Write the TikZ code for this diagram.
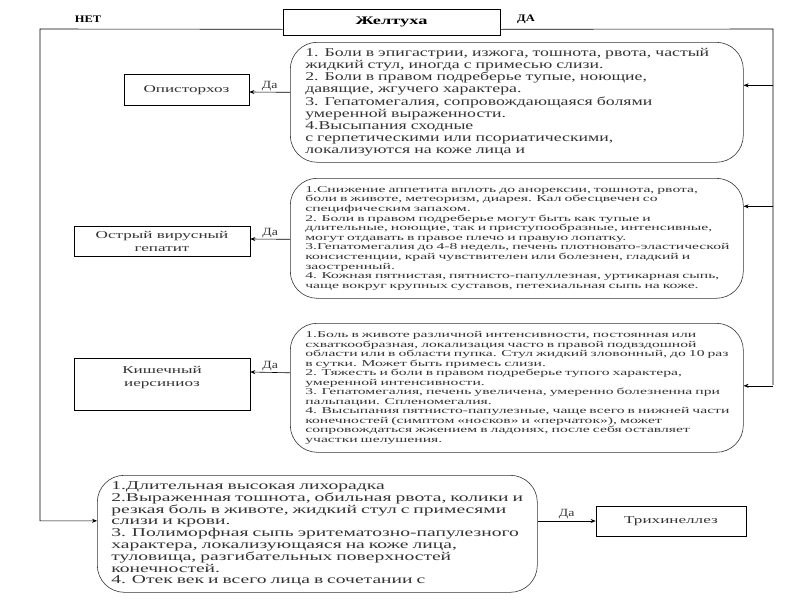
\documentclass[tikz,border=0pt]{standalone}
\usepackage{fontspec}
\setmainfont{Liberation Serif}
\newfontfamily\plainfont[FakeStretch=1.25]{Liberation Serif}
\newfontfamily\txtfont[FakeStretch=1.48]{Liberation Serif}
\newfontfamily\smallfont[FakeStretch=1.74]{Liberation Serif}
\newfontfamily\bigfont[FakeStretch=1.63]{Liberation Serif}
\newfontfamily\capfont[FakeStretch=1.25]{Liberation Serif Bold}
\newfontfamily\headfont[FakeStretch=1.6]{Liberation Serif Bold}
\usetikzlibrary{arrows.meta}

\begin{document}
\begin{tikzpicture}[
      x=1pt, y=-1pt,
      font=\plainfont\fontsize{10}{12}\selectfont,
      line/.style={draw=black, line width=.6pt},
      flow/.style={draw=black, line width=.6pt, -{Stealth[length=5pt,width=4pt]}},
      dx/.style={draw=black, line width=.6pt, align=center, inner sep=2pt,
                 text=black!80, font=\bigfont\fontsize{10.5}{12.5}\selectfont},
      sym/.style={draw=black!80, line width=.6pt, rounded corners=27pt,
                  align=left, anchor=north west, inner xsep=15pt, text=black!80},
      yes/.style={font=\plainfont\fontsize{11}{12}\selectfont, text=black!80,
                  inner sep=1.5pt}
    ]
    \useasboundingbox (0,0) rectangle (800,600);

    % Root question and its two answers.
    \node[dx, minimum width=217pt, minimum height=26pt, text=black,
          font=\headfont\fontsize{11.5}{12}\selectfont] (root) at (391.5,22) {Желтуха};
    \node[font=\capfont\fontsize{10}{12}\selectfont] (net) at (88,19) {НЕТ};
    \node[font=\capfont\fontsize{10}{12}\selectfont] (da) at (526,19) {ДА};
    \coordinate (nettop) at (40,29);
    \coordinate (datop) at (773,29);

    % Symptom groups on the "yes" branch.
    \node[sym, minimum width=453pt, minimum height=120pt, text width=423pt,
          font=\txtfont\fontsize{12}{12.2}\selectfont] (symA) at (290,42)
      {\mbox{1. Боли в эпигастрии, изжога, тошнота, рвота, частый}\\
       жидкий стул, иногда с примесью слизи.\\
       2. Боли в правом подреберье тупые, ноющие,\\
       давящие, жгучего характера.\\
       3. Гепатомегалия, сопровождающаяся болями\\
       умеренной выраженности.\\
       4.Высыпания сходные\\
       с герпетическими или псориатическими,\\
       локализуются на коже лица и};
    \node[sym, minimum width=453pt, minimum height=120pt, text width=423pt,
          font=\smallfont\fontsize{9}{9.6}\selectfont] (symB) at (290,178)
      {\mbox{1.Снижение аппетита вплоть до анорексии, тошнота, рвота,}\\
       боли в животе, метеоризм, диарея. Кал обесцвечен со\\
       специфическим запахом.\\
       2. Боли в правом подреберье могут быть как тупые и\\
       \mbox{длительные, ноющие, так и приступообразные, интенсивные,}\\
       могут отдавать в правое плечо и правую лопатку.\\
       \mbox{3.Гепатомегалия до 4-8 недель, печень плотновато-эластической}\\
       \mbox{консистенции, край чувствителен или болезнен, гладкий и}\\
       заостренный.\\
       \mbox{4. Кожная пятнистая, пятнисто-папуллезная, уртикарная сыпь,}\\
       \mbox{чаще вокруг крупных суставов, петехиальная сыпь на коже.}};
    \node[sym, minimum width=453pt, minimum height=129pt, text width=423pt,
          font=\smallfont\fontsize{9}{9.5}\selectfont] (symC) at (290,323)
      {\mbox{1.Боль в животе различной интенсивности, постоянная или}\\
       \mbox{схваткообразная, локализация часто в правой подвздошной}\\
       \mbox{области или в области пупка. Стул жидкий зловонный, до 10 раз}\\
       в сутки. Может быть примесь слизи.\\
       \mbox{2. Тяжесть и боли в правом подреберье тупого характера,}\\
       умеренной интенсивности.\\
       \mbox{3. Гепатомегалия, печень увеличена, умеренно болезненна при}\\
       пальпации. Спленомегалия.\\
       \mbox{4. Высыпания пятнисто-папулезные, чаще всего в нижней части}\\
       \mbox{конечностей (симптом «носков» и «перчаток»), может}\\
       \mbox{сопровождаться жжением в ладонях, после себя оставляет}\\
       участки шелушения.};

    % Symptom group on the "no" branch.
    \node[sym, minimum width=440pt, minimum height=117pt, text width=412pt,
          inner xsep=14pt, font=\bigfont\fontsize{12}{11.8}\selectfont] (symD) at (97,475)
      {1.Длительная высокая лихорадка\\
       \mbox{2.Выраженная тошнота, обильная рвота, колики и}\\
       \mbox{резкая боль в животе, жидкий стул с примесями}\\
       слизи и крови.\\
       \mbox{3. Полиморфная сыпь эритематозно-папулезного}\\
       характера, локализующаяся на коже лица,\\
       туловища, разгибательных поверхностей\\
       конечностей.\\
       4. Отек век и всего лица в сочетании с};

    % Diagnoses.
    \node[dx, minimum width=125pt, minimum height=31pt] (opis) at (186.5,90) {Описторхоз};
    \node[dx, minimum width=176pt, minimum height=30pt] (hep) at (162,241.5)
      {Острый вирусный\\гепатит};
    \node[dx, minimum width=176pt, minimum height=52pt, anchor=north] (yers) at (162,358)
      {Кишечный\\иерсиниоз\\ \strut};
    \node[dx, minimum width=150pt, minimum height=30pt] (trich) at (671,521) {Трихинеллез};

    % "No" branch down the left side.
    \draw[flow] ([yshift=6pt]root.south west) -- (nettop) |- ([yshift=13pt]symD.west);

    % "Yes" branch down the right side.
    \draw[line] ([yshift=6pt]root.south east) -- (datop) -- (datop |- 0,385);
    \draw[flow] ([yshift=17pt]symA.east -| datop) -- ([yshift=17pt]symA.east);
    \draw[flow] ([yshift=32pt]symB.east -| datop) -- ([yshift=32pt]symB.east);
    \draw[flow] ([yshift=2pt]symC.east -| datop) -- ([yshift=2pt]symC.east);

    % Diagnosis links.
    \draw[flow] ([yshift=10pt]symA.west) -- node[yes, above] {Да} (opis.east |- 0,92);
    \draw[flow] ([yshift=-1pt]symB.west) -- node[yes, above] {Да} (hep.east |- 0,239);
    \draw[flow] ([yshift=15pt]symC.west) -- node[yes, above] {Да} (yers.east |- 0,372);
    \draw[flow] (symD.east |- trich.west) -- node[yes, above] {Да} (trich.west);
  \end{tikzpicture}
\end{document}
